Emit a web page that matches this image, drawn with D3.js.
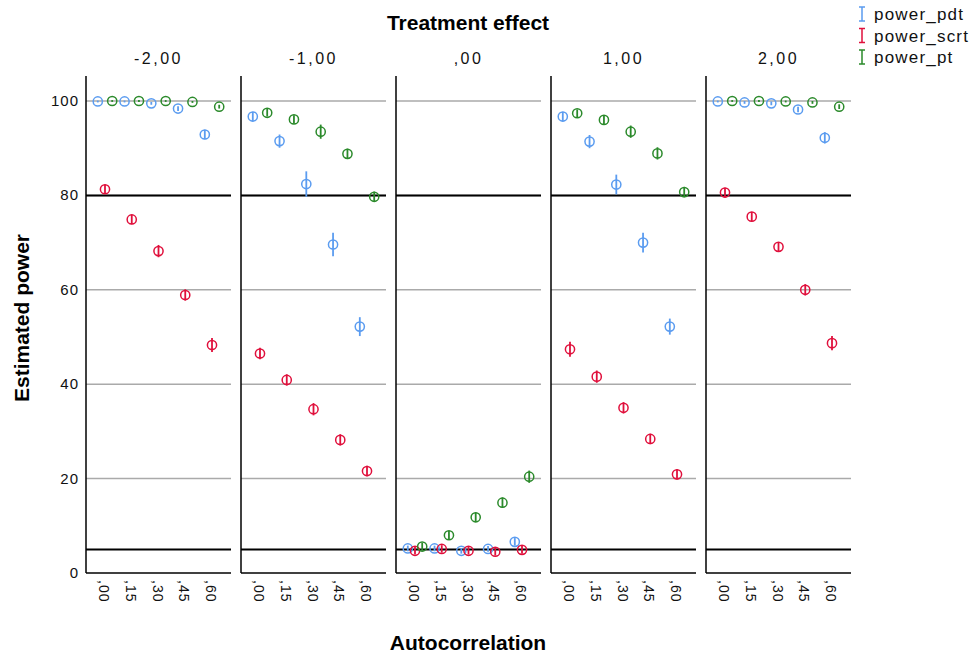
<!DOCTYPE html>
<html>
<head>
<meta charset="utf-8">
<script src="https://cdn.jsdelivr.net/npm/d3@7"></script>
<style>
  body { margin: 0; background: #fff; }
  text { font-family: "Liberation Sans", Arial, sans-serif; }
</style>
</head>
<body>
<svg id="chart" width="973" height="657"></svg>
<script>
// facets, categories and series
const effects = ["-2,00", "-1,00", ",00", "1,00", "2,00"];
const autocorr = [",00", ",15", ",30", ",45", ",60"];
const series = ["power_pdt", "power_scrt", "power_pt"];
const yTicks = [0, 20, 40, 60, 80, 100];

// estimated power, one row per treatment effect, one value per autocorrelation
const powerPdt = [
  [99.9, 99.9, 99.5, 98.4, 92.9],
  [96.7, 91.5, 82.4, 69.6, 52.2],
  [5.2, 5.2, 4.7, 5.1, 6.6],
  [96.7, 91.4, 82.3, 70.0, 52.2],
  [99.9, 99.7, 99.5, 98.2, 92.2]
];
const powerScrt = [
  [81.3, 74.9, 68.2, 58.9, 48.3],
  [46.5, 40.9, 34.7, 28.2, 21.6],
  [4.7, 5.1, 4.7, 4.5, 4.9],
  [47.4, 41.6, 35.0, 28.4, 20.9],
  [80.6, 75.5, 69.1, 60.0, 48.7]
];
const powerPt = [
  [100, 100, 100, 99.8, 98.8],
  [97.5, 96.1, 93.5, 88.8, 79.7],
  [5.6, 8.0, 11.8, 14.9, 20.4],
  [97.4, 96.0, 93.5, 88.9, 80.7],
  [100, 100, 99.9, 99.7, 98.8]
];
// half width of the error bars
const errPdt = [
  [0.2, 0.2, 0.3, 0.5, 1.0],
  [1.0, 1.4, 2.7, 2.5, 2.0],
  [0.6, 0.6, 0.6, 0.6, 0.8],
  [1.0, 1.4, 2.1, 2.1, 1.7],
  [0.2, 0.3, 0.4, 0.6, 1.2]
];
const errScrt = [
  [1.0, 1.0, 1.3, 1.2, 1.5],
  [1.2, 1.2, 1.3, 1.2, 1.1],
  [0.8, 0.8, 0.8, 0.8, 0.8],
  [1.6, 1.3, 1.2, 1.1, 1.1],
  [1.0, 1.0, 1.0, 1.2, 1.5]
];
const errPt = [
  [0.2, 0.2, 0.2, 0.2, 0.4],
  [0.8, 0.9, 1.5, 1.1, 1.1],
  [0.8, 0.9, 1.0, 1.1, 1.3],
  [0.8, 0.9, 1.3, 1.3, 1.1],
  [0.2, 0.2, 0.2, 0.3, 0.5]
];
const refLines = [80, 5];

const values = [powerPdt, powerScrt, powerPt];
const errors = [errPdt, errScrt, errPt];
const colors = ["#5b9cf0", "#e0103c", "#2b8a2b"];

const svg = d3.select("#chart");

// layout
let panelW = 145;
let facetX = d3.scaleBand().domain(effects).range([86, 851]).paddingInner(10 / 155).paddingOuter(0);
let xScale = d3.scalePoint().domain(autocorr).range([0, panelW]).padding(0.71);
let offset = d3.scalePoint().domain(series).range([-7.2, 7.2]);
let yScale = d3.scaleLinear().domain([0, 100]).range([573, 101]);
let color = d3.scaleOrdinal().domain(series).range(colors);

// flatten
let points = [];
effects.forEach((e, fi) => {
  series.forEach((s, si) => {
    autocorr.forEach((a, ai) => {
      points.push({effect: e, series: s, ac: a, v: values[si][fi][ai], err: errors[si][fi][ai]});
    });
  });
});

// y tick labels
svg.append("g").selectAll("text")
  .data(yTicks)
  .enter().append("text")
  .attr("x", 79)
  .attr("y", d => yScale(d) + 5)
  .attr("text-anchor", "end")
  .attr("font-size", 15)
  .attr("letter-spacing", 1)
  .attr("fill", "#111")
  .text(d => d);

effects.forEach(e => {
  let g = svg.append("g").attr("transform", `translate(${facetX(e)},0)`);

  // grid lines
  g.selectAll(".grid")
    .data(yTicks.filter(d => d > 0))
    .enter().append("line")
    .attr("x1", 0).attr("x2", panelW)
    .attr("y1", d => yScale(d)).attr("y2", d => yScale(d))
    .attr("stroke", "#aaa")
    .attr("stroke-width", 1.5);

  // reference lines
  g.selectAll(".ref")
    .data(refLines)
    .enter().append("line")
    .attr("x1", 0).attr("x2", panelW)
    .attr("y1", d => yScale(d)).attr("y2", d => yScale(d))
    .attr("stroke", "#000")
    .attr("stroke-width", 2);

  // frame: left and bottom
  g.append("line").attr("x1", 0).attr("x2", 0).attr("y1", 76).attr("y2", yScale(0)).attr("stroke", "#000").attr("stroke-width", 1.5);
  g.append("line").attr("x1", 0).attr("x2", panelW).attr("y1", yScale(0)).attr("y2", yScale(0)).attr("stroke", "#000").attr("stroke-width", 1.5);

  // facet label
  g.append("text")
    .attr("x", panelW / 2)
    .attr("y", 64)
    .attr("text-anchor", "middle")
    .attr("font-size", 16)
    .attr("letter-spacing", 2.5)
    .attr("fill", "#111")
    .text(e);

  // x tick labels
  g.selectAll(".xl")
    .data(autocorr)
    .enter().append("text")
    .attr("transform", d => `translate(${xScale(d) - 6},580) rotate(90)`)
    .attr("font-size", 14)
    .attr("letter-spacing", 1)
    .attr("fill", "#111")
    .text(d => d);

  let pts = points.filter(p => p.effect == e);

  // error bars
  g.selectAll(".err")
    .data(pts)
    .enter().append("line")
    .attr("x1", d => xScale(d.ac) + offset(d.series))
    .attr("x2", d => xScale(d.ac) + offset(d.series))
    .attr("y1", d => yScale(d.v - d.err))
    .attr("y2", d => yScale(d.v + d.err))
    .attr("stroke", d => color(d.series))
    .attr("stroke-width", 1.8);

  // points
  g.selectAll(".circ")
    .data(pts)
    .enter().append("circle")
    .attr("cx", d => xScale(d.ac) + offset(d.series))
    .attr("cy", d => yScale(d.v))
    .attr("r", 4.6)
    .attr("fill", "none")
    .attr("stroke", d => color(d.series))
    .attr("stroke-width", 1.5);
});

// titles
svg.append("text")
  .attr("x", 468).attr("y", 30)
  .attr("text-anchor", "middle")
  .attr("font-size", 21).attr("font-weight", "bold")
  .text("Treatment effect");

svg.append("text")
  .attr("x", 468).attr("y", 650)
  .attr("text-anchor", "middle")
  .attr("font-size", 21).attr("font-weight", "bold")
  .text("Autocorrelation");

svg.append("text")
  .attr("transform", "translate(29,318) rotate(-90)")
  .attr("text-anchor", "middle")
  .attr("font-size", 21).attr("font-weight", "bold")
  .text("Estimated power");

// legend
let legend = svg.append("g").selectAll("g")
  .data(series)
  .enter().append("g")
  .attr("transform", (d, i) => `translate(862,${14 + i * 21.5})`);

legend.append("path")
  .attr("d", "M-3,-7H3M0,-7V7M-3,7H3")
  .attr("fill", "none")
  .attr("stroke", d => color(d))
  .attr("stroke-width", 1.5);

legend.append("text")
  .attr("x", 12)
  .attr("y", 6)
  .attr("font-size", 17)
  .attr("letter-spacing", 1.2)
  .attr("fill", "#111")
  .text(d => d);
</script>
</body>
</html>
